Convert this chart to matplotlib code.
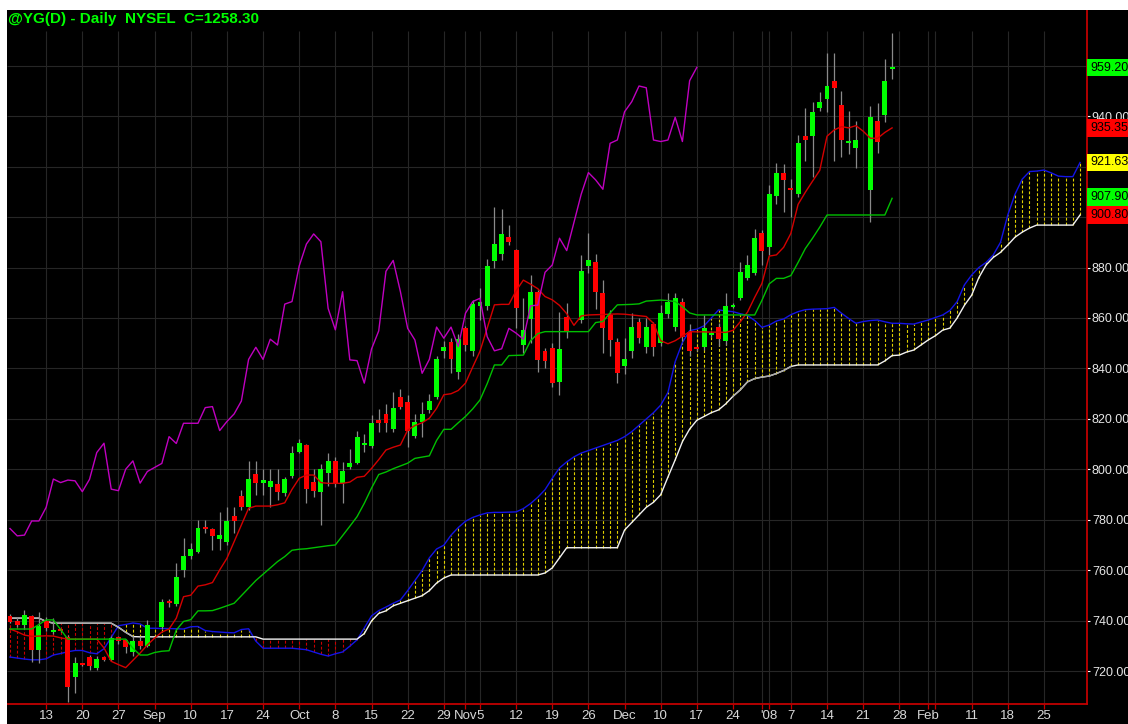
import numpy as np
import matplotlib
matplotlib.use('Agg')
import matplotlib.pyplot as plt
from matplotlib.patches import Rectangle
import matplotlib.transforms as mtransforms

plt.rcParams['font.family'] = ['Liberation Sans Narrow', 'Liberation Sans', 'DejaVu Sans']

nan = np.nan
# ---- daily candles (bar slots; nan = holiday slot) ----
opens = [742.0, 739.8, 738.4, 742.0, 728.3, 739.8, 735.6, 736.6, 733.8, 717.9,
         723.2, 725.9, 721.5, 725.9, 724.6, 733.6, 732.5, 727.7, 732.2, 729.9,
         nan, 737.7, 747.6, 746.8, 760.2, 765.7, 767.5, 777.4, 776.4, 772.5,
         771.4, 781.6, 789.3, 785.0, 798.1, 794.5, 793.2, 794.2, 790.6, 797.4,
         807.1, 809.5, 795.0, 791.0, 798.5, 803.4, 794.8, 800.8, 802.7, 809.9,
         809.3, 819.6, 822.0, 815.9, 828.6, 826.7, 813.3, 819.0, 823.6, 828.9,
         847.1, 850.6, 838.8, 855.9, 847.0, 864.8, 864.8, 882.7, 885.3, 892.2,
         886.9, 849.3, 859.6, 870.4, 847.1, 848.3, 834.8, 860.3, nan, 859.2,
         880.4, 882.1, 870.0, 861.2, 850.6, 840.8, 847.0, 858.6, 848.7, 857.7,
         850.0, 861.5, 856.6, 866.5, 854.6, 848.2, 848.4, 853.3, 856.4, 850.7,
         864.6, 867.8, 876.0, 878.0, 893.8, 888.3, 908.5, 917.6, 911.4, 909.0,
         932.1, 932.2, 943.1, 946.7, 954.0, 944.4, 929.2, 927.2, nan, 910.7,
         938.0, 940.4, 959.0]
highs = [742.8, 741.5, 744.3, 742.5, 743.5, 741.5, 741.0, 737.0, 734.5, 725.9,
         723.5, 726.5, 726.0, 726.3, 734.0, 734.0, 733.0, 734.1, 734.0, 740.4,
         nan, 748.6, 748.6, 763.0, 773.0, 771.0, 780.0, 780.0, 777.0, 783.0,
         785.0, 785.0, 792.0, 803.4, 803.4, 800.0, 800.0, 800.0, 797.0, 809.1,
         812.0, 810.0, 800.0, 802.0, 806.7, 805.0, 803.0, 808.0, 815.4, 814.0,
         821.6, 824.0, 826.0, 830.8, 832.0, 829.5, 822.0, 826.7, 830.0, 845.0,
         851.0, 852.0, 853.5, 857.0, 867.0, 871.8, 883.2, 904.1, 903.3, 897.0,
         887.5, 868.0, 877.0, 871.0, 848.0, 850.0, 862.5, 866.0, nan, 885.0,
         893.6, 885.3, 875.0, 863.0, 852.0, 852.0, 862.0, 860.0, 860.0, 858.5,
         865.0, 870.0, 870.0, 868.0, 857.5, 849.0, 861.0, 855.0, 858.0, 870.0,
         866.0, 882.0, 885.0, 895.2, 895.0, 912.7, 921.3, 921.0, 915.0, 932.5,
         943.1, 945.7, 949.7, 964.9, 964.9, 950.0, 942.0, 938.0, nan, 944.0,
         945.3, 962.5, 972.8]
lows = [739.0, 737.5, 737.0, 723.9, 723.5, 736.0, 735.0, 735.8, 707.7, 711.6,
        722.0, 720.6, 720.5, 724.0, 724.0, 731.0, 727.3, 726.0, 729.0, 729.5,
        nan, 737.0, 745.5, 746.0, 757.6, 764.5, 767.0, 775.0, 768.0, 768.0,
        770.0, 775.0, 784.0, 784.0, 790.0, 790.0, 785.0, 788.0, 789.5, 796.5,
        806.5, 786.7, 789.0, 778.0, 793.5, 793.0, 786.7, 800.0, 802.0, 807.0,
        808.5, 815.0, 815.0, 815.0, 824.0, 809.0, 812.5, 813.0, 822.5, 828.0,
        844.0, 838.1, 836.0, 847.0, 845.0, 859.2, 863.0, 880.0, 883.0, 889.0,
        856.0, 846.0, 850.0, 838.8, 840.0, 832.6, 829.5, 852.0, nan, 858.0,
        878.0, 863.6, 846.0, 845.0, 834.2, 838.0, 844.0, 850.0, 846.0, 845.0,
        849.0, 860.0, 855.0, 851.0, 845.0, 847.0, 847.5, 852.5, 849.0, 849.5,
        864.0, 867.0, 875.0, 877.0, 881.0, 885.0, 905.0, 902.0, 900.0, 908.0,
        922.3, 916.0, 942.0, 941.7, 922.0, 923.7, 925.0, 919.3, nan, 898.2,
        925.3, 937.8, 954.6]
closes = [739.6, 738.4, 742.4, 728.3, 737.8, 737.4, 736.1, 736.2, 714.0, 723.2,
          722.6, 722.3, 725.0, 724.6, 733.4, 732.2, 729.6, 731.9, 729.9, 738.2,
          nan, 747.4, 747.2, 757.4, 765.7, 768.5, 777.0, 776.6, 773.7, 774.0,
          779.6, 779.6, 785.0, 796.2, 794.8, 795.8, 795.5, 791.2, 796.1, 806.7,
          810.4, 792.2, 791.6, 800.1, 803.4, 794.6, 799.2, 802.4, 813.0, 810.3,
          818.3, 818.3, 818.3, 824.5, 824.9, 815.4, 819.0, 822.0, 827.1, 843.6,
          848.4, 843.6, 851.6, 849.3, 865.5, 866.5, 880.6, 889.3, 893.3, 890.2,
          863.8, 855.3, 870.4, 843.4, 843.1, 834.2, 847.7, 854.9, nan, 878.5,
          882.8, 870.4, 855.9, 851.3, 838.1, 843.6, 856.4, 852.0, 856.4, 848.7,
          861.9, 866.5, 867.8, 852.6, 847.0, 847.8, 855.9, 854.0, 851.6, 864.8,
          865.1, 878.1, 881.0, 891.6, 886.7, 909.0, 917.6, 914.7, 911.0, 929.2,
          930.5, 941.7, 945.7, 951.9, 951.2, 930.5, 929.9, 930.5, nan, 939.5,
          929.9, 954.0, 959.3]

# ---- Ichimoku lines (one value per bar slot) ----
tenkan = [736.8, 735.7, 734.4, 733.9, 734.0, 734.1, 734.0, 733.3, 732.8, 732.8,
          732.8, 732.8, 732.8, 729.3, 724.0, 722.7, 721.5, 724.4, 727.3, 730.5,
          733.2, 735.6, 736.8, 741.1, 749.6, 750.2, 753.8, 754.3, 755.2, 760.2,
          764.8, 771.4, 778.0, 784.6, 785.5, 785.5, 785.5, 786.0, 786.8, 792.1,
          796.5, 797.8, 797.8, 794.8, 794.5, 794.5, 794.5, 795.0, 796.9, 797.3,
          800.4, 803.9, 807.7, 808.8, 809.7, 815.6, 817.4, 818.5, 820.3, 824.2,
          829.6, 830.0, 831.3, 834.2, 840.6, 846.8, 856.0, 865.2, 865.4, 865.4,
          870.8, 875.0, 873.4, 871.6, 868.5, 867.2, 865.0, 861.7, 857.1, 860.8,
          861.2, 861.3, 861.4, 861.5, 861.6, 861.5, 861.2, 860.9, 860.6, 857.9,
          851.0, 849.8, 851.0, 852.8, 854.6, 854.5, 854.5, 854.4, 854.4, 854.3,
          855.1, 858.5, 862.3, 868.2, 873.7, 884.5, 885.0, 888.0, 893.5, 905.0,
          909.8, 914.2, 918.5, 932.0, 934.5, 935.8, 935.3, 936.2, 934.0, 931.2,
          931.2, 933.5, 935.3]
kijun = [736.8, 736.8, 736.8, 736.8, 738.6, 740.4, 740.4, 736.6, 732.8, 732.8,
         732.8, 732.8, 732.8, 732.8, 732.8, 732.8, 732.8, 729.2, 726.5, 726.5,
         727.5, 728.0, 728.2, 736.4, 739.8, 740.5, 744.0, 744.0, 744.1, 745.0,
         746.0, 747.0, 750.0, 753.0, 756.0, 758.5, 761.0, 763.5, 765.5, 768.0,
         768.4, 768.6, 769.0, 769.4, 769.8, 770.1, 773.8, 777.5, 781.3, 786.6,
         792.6, 798.0, 799.0, 800.3, 801.4, 802.5, 804.4, 804.9, 805.4, 811.5,
         815.9, 815.9, 818.5, 821.0, 824.0, 827.5, 834.0, 841.4, 841.4, 845.1,
         845.2, 845.3, 851.0, 853.8, 854.6, 854.6, 854.6, 854.6, 854.6, 854.6,
         854.6, 858.2, 858.6, 862.0, 865.2, 865.3, 865.4, 865.6, 866.7, 866.9,
         867.1, 866.9, 866.5, 864.5, 862.0, 861.2, 861.2, 861.2, 861.2, 861.2,
         861.2, 861.2, 861.2, 861.2, 867.0, 873.5, 875.7, 875.7, 876.8, 882.0,
         887.5, 891.6, 896.0, 900.8, 900.8, 900.8, 900.8, 900.8, 900.8, 900.8,
         900.8, 900.8, 907.4]
senkou_a = [725.7, 725.3, 724.9, 724.6, 724.6, 725.0, 726.5, 727.1, 727.8, 728.3,
            728.3, 727.4, 727.0, 729.0, 733.5, 738.1, 738.6, 739.2, 738.8, 737.1,
            737.1, 737.0, 737.0, 736.9, 736.8, 737.7, 737.8, 736.2, 735.8, 735.6,
            735.4, 735.3, 736.6, 736.9, 732.0, 729.2, 729.2, 729.2, 729.2, 729.2,
            728.9, 728.6, 727.7, 726.8, 726.1, 727.0, 727.7, 730.0, 732.5, 737.2,
            742.0, 744.1, 745.5, 747.0, 748.3, 752.0, 756.0, 760.0, 765.0, 768.5,
            770.0, 774.0, 777.0, 779.5, 781.0, 782.0, 782.8, 783.0, 783.0, 783.1,
            783.2, 784.5, 786.5, 789.0, 792.0, 796.5, 800.6, 803.0, 805.0, 806.5,
            807.5, 808.5, 809.5, 810.5, 811.5, 813.0, 815.0, 817.5, 820.0, 822.5,
            825.5, 830.5, 842.7, 850.3, 855.0, 855.6, 856.9, 860.0, 863.2, 862.8,
            862.5, 861.7, 861.0, 859.0, 856.3, 857.2, 858.8, 859.6, 861.3, 862.5,
            863.3, 863.5, 863.6, 863.7, 864.2, 861.9, 859.8, 857.9, 858.6, 859.0,
            859.2, 858.5, 857.9, 857.9, 857.7, 857.6, 858.4, 859.2, 860.2, 861.2,
            863.0, 866.5, 873.1, 877.0, 880.0, 882.0, 885.0, 890.0, 900.8, 909.0,
            915.0, 918.0, 918.2, 918.6, 917.5, 916.2, 916.0, 916.0, 921.6]
senkou_b = [741.1, 741.1, 741.1, 741.1, 741.1, 739.8, 739.1, 739.1, 739.1, 739.1,
            739.1, 739.1, 739.1, 739.1, 739.1, 737.5, 735.5, 733.8, 733.7, 733.7,
            733.7, 733.7, 733.7, 733.7, 733.7, 733.7, 733.7, 733.7, 733.7, 733.7,
            733.7, 733.7, 733.7, 733.7, 733.7, 732.8, 732.8, 732.8, 732.8, 732.8,
            732.8, 732.8, 732.8, 732.8, 732.8, 732.8, 732.8, 732.8, 732.8, 735.0,
            740.0, 743.0, 744.0, 746.0, 747.0, 748.0, 749.0, 750.0, 752.0, 755.0,
            757.0, 758.2, 758.2, 758.2, 758.2, 758.2, 758.2, 758.2, 758.2, 758.2,
            758.2, 758.2, 758.2, 758.2, 759.0, 761.0, 765.0, 769.0, 769.0, 769.0,
            769.0, 769.0, 769.0, 769.0, 769.0, 776.0, 779.0, 782.0, 785.0, 787.0,
            790.0, 797.0, 803.8, 811.0, 816.0, 819.5, 821.0, 822.5, 823.6, 826.0,
            829.0, 831.5, 834.7, 836.0, 836.6, 837.0, 838.0, 839.2, 840.8, 841.4,
            841.4, 841.4, 841.4, 841.4, 841.4, 841.4, 841.4, 841.4, 841.4, 841.4,
            841.4, 843.0, 845.1, 845.3, 846.5, 847.3, 849.3, 851.3, 853.0, 855.2,
            856.0, 860.0, 865.0, 869.0, 876.0, 881.0, 884.0, 886.0, 888.9, 892.0,
            894.0, 895.6, 896.8, 896.8, 896.8, 896.8, 896.8, 896.8, 900.8]
chikou_shift = 26   # trading bars

# ---- axis labels ----
price_ticks = [720, 740, 760, 780, 800, 820, 840, 860, 880, 940]
grid_levels = [720, 740, 760, 780, 800, 820, 840, 860, 880, 900, 920, 940, 960]
date_tick_bars = [5, 10, 15, 20, 25, 30, 35, 40, 45, 50, 55, 60, 63, 65, 70, 75, 80,
                  85, 90, 95, 100, 104, 105, 108, 113, 118, 123, 127, 128, 133, 138, 143]
date_tick_labels = ['13', '20', '27', 'Sep', '10', '17', '24', 'Oct', '8', '15', '22',
                    '29', 'Nov', '5', '12', '19', '26', 'Dec', '10', '17', '24', '',
                    "'08", '7', '14', '21', '28', 'Feb', '', '11', '18', '25']
value_boxes = [(959.20, '959.20', '#00ff00'), (935.35, '935.35', '#ff0000'),
               (921.63, '921.63', '#ffff00'), (907.90, '907.90', '#00ff00'),
               (900.80, '900.80', '#ff0000')]
title = '@YG(D) - Daily  NYSEL  C=1258.30'

# ---- figure ----
W, H = 1128, 724
fig = plt.figure(figsize=(W / 100, H / 100), dpi=100)
fig.patch.set_facecolor('black')
fig.patches.append(Rectangle((0, 1 - 10 / H), 1, 10 / H, transform=fig.transFigure,
                             facecolor='white', edgecolor='none'))
fig.patches.append(Rectangle((0, 0), 7 / W, 1, transform=fig.transFigure,
                             facecolor='white', edgecolor='none'))
ax = fig.add_axes([7 / W, 20 / H, 1080 / W, 694 / H])
ax.set_facecolor('black')
XMIN, XMAX = -0.415, 148.96
YMIN, YMAX = 707.1, 982.0
ax.set_xlim(XMIN, XMAX)
ax.set_ylim(YMIN, YMAX)

# grid
ax.hlines(grid_levels, XMIN, XMAX, color='#262626', lw=0.8, zorder=1)
ax.vlines(date_tick_bars, YMIN, 973.5, color='#262626', lw=0.8, zorder=1)

# cloud hatching
A = np.array(senkou_a)
B = np.array(senkou_b)
xs = np.arange(len(A))
bull = A >= B
ax.vlines(xs[bull], B[bull], A[bull], colors='#e0d000', lw=0.8,
          linestyles=(0, (2.6, 1.8)), zorder=2)
ax.vlines(xs[~bull], A[~bull], B[~bull], colors='#c80000', lw=0.8,
          linestyles=(0, (2.6, 1.8)), zorder=2)
ax.plot(xs, A, color='#1414e6', lw=1.0, zorder=3)
ax.plot(xs, B, color='#f2f2f2', lw=1.0, zorder=3)
ax.plot(xs[:18], B[:18], color='#a8a8a8', lw=1.0, zorder=3)
ax.plot(xs[100:109], B[100:109], color='#a8a8a8', lw=1.0, zorder=3)

# candles
o = np.array(opens); h = np.array(highs); l = np.array(lows); c = np.array(closes)
xb = np.arange(len(o))
valid = ~np.isnan(o)
ax.vlines(xb[valid], l[valid], h[valid], color='#8a8a8a', lw=0.9, zorder=4)
bh = np.abs(c - o)
small = bh < 0.8
bottom = np.where(small, (o + c) / 2 - 0.4, np.minimum(o, c))
bh = np.where(small, 0.8, bh)
up = valid & (c >= o)
dn = valid & (c < o)
ax.bar(xb[up], bh[up], bottom=bottom[up], width=0.68, color='#00ff00', lw=0, zorder=5)
ax.bar(xb[dn], bh[dn], bottom=bottom[dn], width=0.68, color='#ff0000', lw=0, zorder=5)

# tenkan / kijun / chikou (close plotted 26 trading bars back)
ax.plot(np.arange(len(tenkan)), tenkan, color='#d40000', lw=1.0, zorder=6)
ax.plot(np.arange(len(kijun)), kijun, color='#00c000', lw=1.0, zorder=6)
vx = xb[valid]
vc = c[valid]
ax.plot(vx[:-chikou_shift], vc[chikou_shift:], color='#c000c0', lw=1.0, zorder=6)

# axes styling
for s in ['top', 'left']:
    ax.spines[s].set_visible(False)
for s in ['right', 'bottom']:
    ax.spines[s].set_color('#c00000')
    ax.spines[s].set_linewidth(1.3)
ax.yaxis.tick_right()
ax.set_yticks(price_ticks)
ax.set_yticklabels([f'{v:.2f}' for v in price_ticks])
ax.tick_params(axis='y', direction='out', length=2.5, width=0.8, color='white',
               labelcolor='#e6e6e6', labelsize=9, pad=1)
ax.set_xticks(date_tick_bars)
ax.set_xticklabels(date_tick_labels)
ax.tick_params(axis='x', direction='out', length=3.5, width=0.9, color='#c00000',
               labelcolor='#d8d8d8', labelsize=9.5, pad=1)

trans = mtransforms.blended_transform_factory(ax.transAxes, ax.transData)
for val, txt, fc in value_boxes:
    ax.text(1.0 + 3 / 1080, val, txt, transform=trans, ha='left', va='center',
            color='black', fontsize=9, clip_on=False, zorder=10,
            bbox=dict(boxstyle='square,pad=0.22', fc=fc, ec='none'))

fig.text(8 / W, 1 - 19 / H, title, color='#00ff00', fontsize=11,
         fontweight='bold', va='center', ha='left')

fig.savefig('out.png', dpi=100, facecolor=fig.get_facecolor())
